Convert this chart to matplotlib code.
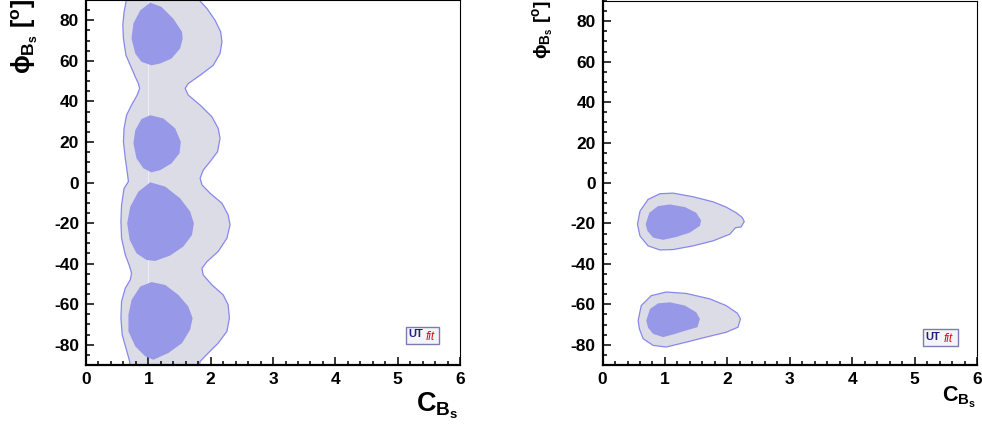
import matplotlib
matplotlib.use("Agg")
import matplotlib.pyplot as plt
from matplotlib.ticker import MultipleLocator
from matplotlib.patches import Rectangle

plt.rcParams['font.family'] = ['Liberation Sans', 'DejaVu Sans']
plt.rcParams['font.weight'] = 'bold'
plt.rcParams['axes.unicode_minus'] = False
plt.rcParams['mathtext.fontset'] = 'custom'
plt.rcParams['mathtext.rm'] = 'Liberation Sans:bold'
plt.rcParams['mathtext.it'] = 'Liberation Sans:bold'
plt.rcParams['mathtext.bf'] = 'Liberation Sans:bold'
plt.rcParams['mathtext.fallback'] = 'stixsans'

OUTER_FILL = '#dcdce6'
OUTER_EDGE = '#8888ec'
INNER_FILL = '#9898e8'

# ---- left panel: 95% band (left edge top->bottom, right edge top->bottom)
band_left_c = [0.66, 0.61, 0.59, 0.60, 0.64, 0.71, 0.79, 0.84, 0.86, 0.82, 0.73, 0.65, 0.61, 0.60,
               0.63, 0.66, 0.68, 0.61, 0.57, 0.56, 0.57, 0.63, 0.70, 0.73, 0.71, 0.63, 0.57, 0.56,
               0.58, 0.64, 0.70, 0.71]
band_left_phi = [92, 84.1, 77.5, 71.0, 62.8, 57.8, 52.1, 48.8, 46.4, 43.1, 38.2, 33.2, 26.7, 20.1,
                 11.9, 5.4, 0.5, -2.9, -11.1, -19.3, -27.5, -35.7, -41.4, -44.7, -48.0, -52.1, -58.6, -66.9,
                 -75.1, -81.6, -88.2, -92]
band_right_c = [1.79, 1.82, 1.94, 2.07, 2.16, 2.18, 2.15, 2.04, 1.83, 1.64, 1.59, 1.64, 1.83, 2.02,
                2.12, 2.15, 2.11, 1.99, 1.88, 1.83, 1.86, 1.99, 2.18, 2.28, 2.31, 2.26, 2.12, 1.94,
                1.86, 1.88, 2.02, 2.20, 2.28, 2.30, 2.26, 2.12, 1.96, 1.83, 1.81]
band_right_phi = [92, 89.8, 85.8, 80.0, 74.3, 69.4, 63.6, 57.8, 52.9, 48.8, 46.4, 43.1, 38.2, 32.4,
                  26.7, 21.8, 15.2, 10.3, 6.1, 2.1, -1.2, -5.3, -10.2, -16.0, -20.9, -27.5, -34.0, -39.0,
                  -42.3, -45.6, -50.5, -55.4, -60.3, -66.9, -73.4, -79.2, -84.1, -88.2, -92]

# 68% regions, left panel
blob1_c = [1.03, 1.21, 1.40, 1.54, 1.55, 1.51, 1.37, 1.19, 1.05, 0.89, 0.79, 0.73, 0.76, 0.87]
blob1_phi = [88.7, 86.6, 80.8, 74.3, 71.0, 66.1, 61.1, 58.7, 57.8, 59.5, 63.6, 71.0, 78.4, 84.9]
blob2_c = [1.03, 1.24, 1.43, 1.52, 1.50, 1.37, 1.19, 1.05, 0.92, 0.81, 0.76, 0.79, 0.89]
blob2_phi = [33.2, 31.6, 26.7, 20.1, 14.4, 9.4, 6.1, 5.0, 7.0, 11.9, 19.3, 25.8, 31.3]
blob3_c = [1.03, 1.27, 1.51, 1.67, 1.73, 1.70, 1.56, 1.35, 1.11, 0.97, 0.81, 0.70, 0.66, 0.71, 0.84]
blob3_phi = [0.1, -2.0, -7.8, -14.3, -20.1, -25.9, -31.6, -36.0, -38.7, -38.2, -34.9, -28.3, -20.1, -11.9, -4.5]
blob4_c = [1.05, 1.27, 1.48, 1.64, 1.71, 1.67, 1.54, 1.32, 1.08, 0.95, 0.79, 0.68, 0.68, 0.73, 0.87]
blob4_phi = [-49.1, -50.5, -55.4, -61.1, -66.9, -72.6, -79.2, -84.1, -87.4, -85.7, -80.8, -73.4, -65.2, -57.9, -51.3]

# ---- right panel
up_out_c = [0.56, 0.60, 0.73, 0.92, 1.13, 1.45, 1.77, 1.98, 2.14, 2.24, 2.27, 2.22, 2.13, 2.04,
            1.77, 1.45, 1.13, 0.92, 0.73, 0.60]
up_out_phi = [-20.4, -13.9, -8.1, -5.3, -5.0, -6.8, -9.3, -11.9, -14.7, -17.1, -19.1, -21.7, -22.1, -25.3,
              -28.6, -31.1, -32.9, -33.1, -31.1, -26.2]
up_in_c = [0.69, 0.75, 0.89, 1.08, 1.32, 1.50, 1.58, 1.56, 1.40, 1.18, 0.97, 0.81, 0.72]
up_in_phi = [-20.4, -14.7, -11.4, -10.6, -11.9, -14.7, -18.5, -21.2, -24.5, -26.7, -28.1, -27.0, -23.7]
lo_out_c = [0.57, 0.62, 0.78, 1.02, 1.34, 1.72, 1.98, 2.16, 2.21, 2.17, 1.98, 1.66, 1.34, 1.02,
            0.81, 0.65, 0.59]
lo_out_phi = [-68.0, -60.6, -55.7, -53.9, -54.6, -57.3, -60.6, -64.4, -67.2, -71.3, -73.8, -76.2, -78.7, -81.1,
              -80.3, -77.0, -72.1]
lo_in_c = [0.70, 0.76, 0.89, 1.08, 1.32, 1.50, 1.56, 1.52, 1.34, 1.13, 0.97, 0.81, 0.73]
lo_in_phi = [-68.0, -62.3, -59.5, -59.0, -60.6, -63.9, -67.2, -71.3, -72.9, -74.9, -76.2, -74.6, -71.6]

x_ticks = [0, 1, 2, 3, 4, 5, 6]


def style_axes(ax):
    ax.set_xlim(0, 6)
    ax.set_ylim(-90, 90)
    ax.set_xticks(x_ticks)
    ax.xaxis.set_minor_locator(MultipleLocator(0.2))
    ax.yaxis.set_major_locator(MultipleLocator(20))
    ax.yaxis.set_minor_locator(MultipleLocator(5))
    ax.tick_params(which='both', direction='in', top=False, right=False, width=1.1, labelsize=12.5)
    ax.tick_params(which='major', length=6, pad=5)
    ax.tick_params(which='minor', length=3)
    for s in ['left', 'bottom']:
        ax.spines[s].set_linewidth(1.6)
    for s in ['top', 'right']:
        ax.spines[s].set_linewidth(0.8)


def add_logo(ax, x0, y0, w, h):
    box = Rectangle((x0, y0), w, h, transform=ax.transAxes,
                    facecolor='#f4f4fa', edgecolor='#7c7cb0', linewidth=1.0, zorder=5)
    ax.add_patch(box)
    ax.text(x0 + 0.07 * w, y0 + h * 0.56, 'UT', transform=ax.transAxes, color='#20207a',
            fontsize=8, fontweight='bold', va='center', ha='left', zorder=6)
    ax.text(x0 + 0.58 * w, y0 + h * 0.40, 'fit', transform=ax.transAxes, color='#e01010',
            fontsize=8.5, fontstyle='italic', fontweight='normal', va='center', ha='left', zorder=6)


fig = plt.figure(figsize=(9.82, 4.36), dpi=100)
ax1 = fig.add_axes([0.0876, 0.1628, 0.3809, 0.8372])
ax2 = fig.add_axes([0.6136, 0.1628, 0.3813, 0.8349])

# left panel
ax1.fill(band_left_c + band_right_c[::-1], band_left_phi + band_right_phi[::-1],
         facecolor=OUTER_FILL, edgecolor=OUTER_EDGE, linewidth=0.9, zorder=1)
ax1.plot([1, 1], [-90, 90], color='#ececf4', linewidth=0.8, zorder=1.5)
for c, p in [(blob1_c, blob1_phi), (blob2_c, blob2_phi), (blob3_c, blob3_phi), (blob4_c, blob4_phi)]:
    ax1.fill(c, p, facecolor=INNER_FILL, edgecolor='none', zorder=2)
style_axes(ax1)
add_logo(ax1, 0.856, 0.058, 0.088, 0.047)

# right panel
for oc, op, ic, ip in [(up_out_c, up_out_phi, up_in_c, up_in_phi), (lo_out_c, lo_out_phi, lo_in_c, lo_in_phi)]:
    ax2.fill(oc, op, facecolor=OUTER_FILL, edgecolor=OUTER_EDGE, linewidth=0.9, zorder=1)
    ax2.fill(ic, ip, facecolor=INNER_FILL, edgecolor='none', zorder=2)
style_axes(ax2)
add_logo(ax2, 0.856, 0.052, 0.093, 0.047)

# axis titles
fig.text(25 / 982, 1 - 74 / 436, r'$\phi_{B_s}$ [$^o$]', rotation=90, fontsize=18,
         ha='center', va='bottom')
fig.text(458 / 982, 1 - 390 / 436, r'$C_{B_s}$', fontsize=19.5, ha='right', va='top')
fig.text(543 / 982, 1 - 59 / 436, r'$\phi_{B_s}$ [$^o$]', rotation=90, fontsize=14,
         ha='center', va='bottom')
fig.text(976 / 982, 1 - 385 / 436, r'$C_{B_s}$', fontsize=15.5, ha='right', va='top')

fig.savefig('out.png', dpi=100)
